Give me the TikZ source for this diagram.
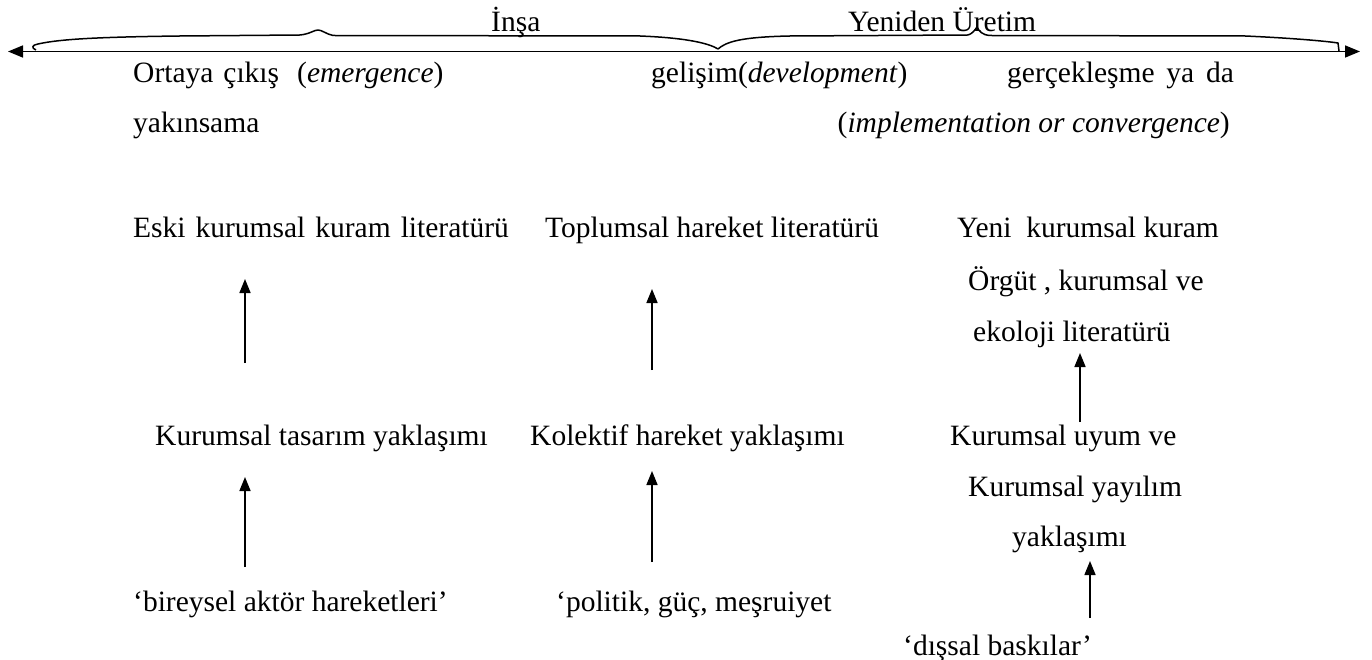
\documentclass[tikz,border=0pt]{standalone}
\usepackage{fontspec}
\setmainfont{Liberation Serif}
\usetikzlibrary{arrows.meta}
\begin{document}
\begin{tikzpicture}[x=1pt,y=-1pt,
  txt/.style={anchor=base west,inner sep=0pt,font=\fontsize{29.5}{35}\selectfont},
  txtr/.style={txt,anchor=base east},
  up/.style={line width=1.6pt,-{Triangle[length=14pt,width=11pt]}},
  brc/.style={line width=1.5pt,line join=round}]
\useasboundingbox (0,0) rectangle (1372,660);
% timeline
\coordinate (L) at (8,51.5);
\coordinate (R) at (1360,51.5);
\draw[line width=1.6pt,{Triangle[length=15pt,width=12pt]}-{Triangle[length=15pt,width=12pt]}] (L) -- (R);
% braces
\draw[brc] (36,50) .. controls (31,48) and (32,45) .. (38,44)
  .. controls (60,39) and (100,37) .. (180,36)
  -- (300,35) .. controls (310,34) and (314,30) .. (318,30)
  .. controls (322,30) and (326,34) .. (333,35.5)
  -- (640,36) .. controls (690,38) and (710,44) .. (718,49);
\draw[brc] (718,49) .. controls (726,42) and (740,37) .. (790,36)
  -- (968,35) .. controls (972,34) and (975,30) .. (977,27)
  .. controls (979,31) and (982,35) .. (990,35.5)
  -- (1245,36) .. controls (1290,38) and (1325,41) .. (1338,43) -- (1339,51);
\node[txt] (insa) at (491,32) {İnşa};
\node[txt] (yeniden) at (848,32) {Yeniden Üretim};
% row 1-2
\node[txt] (ortaya) at (133,83) {Ortaya\hspace{10pt}çıkış\hspace{18pt}(\textit{emergence})};
\node[txt] (gelisim) at (651,83) {gelişim(\textit{development})};
\node[txt] (gercek) at (1007,83) {gerçekleşme\hspace{0.4em}ya\hspace{0.4em}da};
\node[txt] (yakin) at (133,133) {yakınsama};
\node[txtr] (impl) at (1230,133) {(\textit{implementation or convergence})};
% row 3
\node[txt] (eski) at (133,238) {Eski\hspace{10pt}kurumsal\hspace{10pt}kuram\hspace{10pt}literatürü};
\node[txt] (toplum) at (545,238) {Toplumsal hareket literatürü};
\node[txt] (yeni) at (957,238) {Yeni\hspace{0.5em}kurumsal kuram};
\node[txt] (orgut) at (968,290) {Örgüt , kurumsal ve};
\node[txt] (ekoloji) at (973,341) {ekoloji literatürü};
% row 4
\node[txt] (tasarim) at (155,445) {Kurumsal tasarım yaklaşımı};
\node[txt] (kolektif) at (530,445) {Kolektif hareket yaklaşımı};
\node[txt] (uyum) at (950,445) {Kurumsal uyum ve};
\node[txt] (yayilim) at (968,496) {Kurumsal yayılım};
\node[txt] (yaklasim) at (1012,546) {yaklaşımı};
% row 5
\node[txt] (bireysel) at (133,611) {‘bireysel aktör hareketleri’};
\node[txt] (politik) at (556,611) {‘politik, güç, meşruiyet};
\node[txt] (dissal) at (903,655) {‘dışsal baskılar’};
% arrows
\coordinate (a1s) at (245,363); \coordinate (a1e) at (245,279);
\coordinate (a2s) at (245,567); \coordinate (a2e) at (245,477);
\coordinate (b1s) at (652,370); \coordinate (b1e) at (652,289);
\coordinate (b2s) at (652,562); \coordinate (b2e) at (652,471);
\coordinate (c1s) at (1080,422); \coordinate (c1e) at (1080,353);
\coordinate (c2s) at (1090,618); \coordinate (c2e) at (1090,561);
\draw[up] (a1s) -- (a1e);
\draw[up] (a2s) -- (a2e);
\draw[up] (b1s) -- (b1e);
\draw[up] (b2s) -- (b2e);
\draw[up] (c1s) -- (c1e);
\draw[up] (c2s) -- (c2e);
\end{tikzpicture}
\end{document}
